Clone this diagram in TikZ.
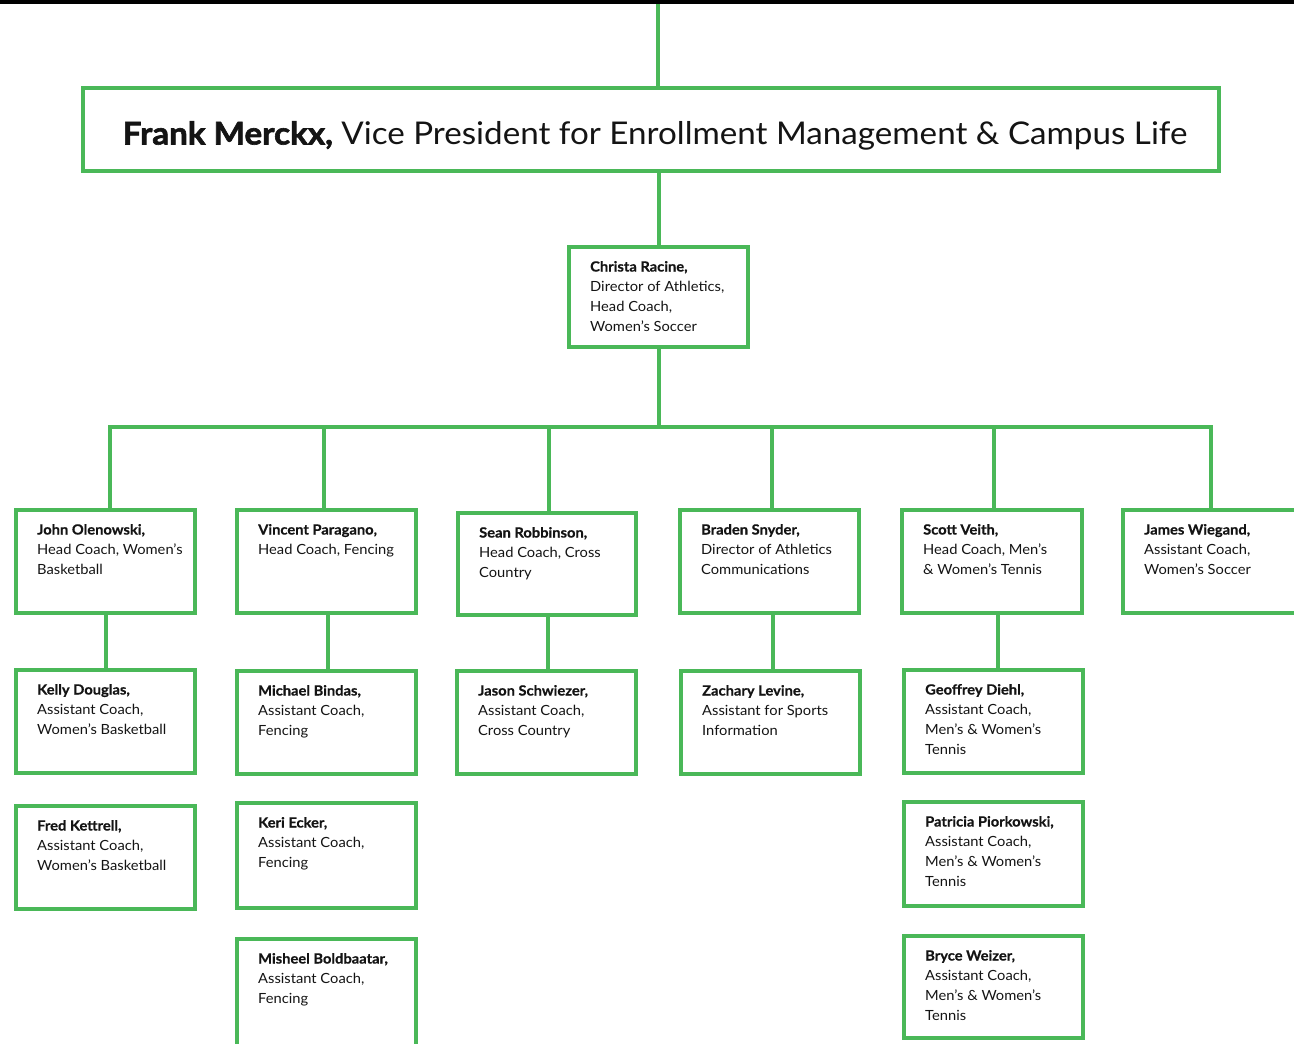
\documentclass[tikz,border=0pt]{standalone}
\usepackage{fontspec}
\setmainfont{Lato}[FakeStretch=1.05, BoldFeatures={FakeBold=0.6}]
\newfontfamily\titlefont{Lato}[FakeStretch=1.06, BoldFeatures={FakeBold=2}]
\definecolor{grn}{RGB}{74,184,88}
\definecolor{ink}{RGB}{20,20,20}
\tikzset{
  box/.style={draw=grn, line width=4pt, inner sep=0pt, outer sep=0pt, anchor=north west, fill=white},
  conn/.style={draw=grn, line width=4pt},
  txt/.style={inner sep=0pt, anchor=base west, text=ink}
}
\newcommand{\pers}[7]{%
  \node[box, minimum width={#4-#2}, minimum height={#5-#3}] (#1) at (#2,#3) {};
  \node[txt] at ([shift={(21,24.5)}]#1.north west)
    {\parbox[t]{175pt}{\raggedright\fontsize{14}{20}\selectfont\textbf{#6}\\#7}};
}
\begin{document}
\begin{tikzpicture}[x=1pt,y=-1pt]
\useasboundingbox (0,0) rectangle (1294,1044);
\clip (0,0) rectangle (1294,1044);
\fill[black] (0,0) rectangle (1294,4);
% top box
\node[box, minimum width=1136, minimum height=83] (vp) at (83,88) {};
\node[inner sep=0pt, anchor=base, text=ink] at (655,144.5)
  {\titlefont\fontsize{31.3}{36}\selectfont\textbf{Frank Merckx,} Vice President for Enrollment Management \& Campus Life};
\pers{chr}{569}{247}{748}{347}{Christa Racine,}{Director of Athletics,\\Head Coach,\\Women’s Soccer}
% row 1
\pers{john}{16}{510}{195}{613}{John Olenowski,}{Head Coach, Women’s\\Basketball}
\pers{vin}{237}{510}{416}{613}{Vincent Paragano,}{Head Coach, Fencing}
\pers{sean}{458}{513}{636}{615}{Sean Robbinson,}{Head Coach, Cross\\Country}
\pers{brad}{680}{510}{859}{613}{Braden Snyder,}{Director of Athletics\\Communications}
\pers{scott}{902}{510}{1082}{613}{Scott Veith,}{Head Coach, Men’s\\\& Women’s Tennis}
\pers{james}{1123}{510}{1302}{613}{James Wiegand,}{Assistant Coach,\\Women’s Soccer}
% row 2
\pers{kelly}{16}{670}{195}{773}{Kelly Douglas,}{Assistant Coach,\\Women’s Basketball}
\pers{mich}{237}{671}{416}{774}{Michael Bindas,}{Assistant Coach,\\Fencing}
\pers{jason}{457}{671}{636}{774}{Jason Schwiezer,}{Assistant Coach,\\Cross Country}
\pers{zach}{681}{671}{860}{774}{Zachary Levine,}{Assistant for Sports\\Information}
\pers{geo}{904}{670}{1083}{773}{Geoffrey Diehl,}{Assistant Coach,\\Men’s \& Women’s\\Tennis}
% row 3
\pers{fred}{16}{806}{195}{909}{Fred Kettrell,}{Assistant Coach,\\Women’s Basketball}
\pers{keri}{237}{803}{416}{908}{Keri Ecker,}{Assistant Coach,\\Fencing}
\pers{pat}{904}{802}{1083}{906}{Patricia Piorkowski,}{Assistant Coach,\\Men’s \& Women’s\\Tennis}
% row 4
\pers{mish}{237}{939}{416}{1050}{Misheel Boldbaatar,}{Assistant Coach,\\Fencing}
\pers{bryce}{904}{936}{1083}{1038}{Bryce Weizer,}{Assistant Coach,\\Men’s \& Women’s\\Tennis}
% connectors
\coordinate (top) at (658,4);
\draw[conn] (top) -- (top |- vp.north);
\draw[conn] (vp.south -| chr.north) -- (chr.north);
\coordinate (b1) at (110,427);
\coordinate (b2) at (324,427);
\coordinate (b3) at (549,427);
\coordinate (b4) at (772,427);
\coordinate (b5) at (994,427);
\coordinate (b6) at (1211,427);
\draw[conn] (chr.south) -- (chr.south |- b1);
\draw[conn] (b1 |- john.north) -- (b1) -- (b6) -- (b6 |- james.north);
\draw[conn] (b2) -- (b2 |- vin.north);
\draw[conn] (b3) -- (b3 |- sean.north);
\draw[conn] (b4) -- (b4 |- brad.north);
\draw[conn] (b5) -- (b5 |- scott.north);
\draw[conn] (john.south) -- (kelly.north);
\draw[conn] ([xshift=1.5]vin.south) -- ([xshift=1.5]vin.south |- mich.north);
\draw[conn] ([xshift=1]sean.south) -- ([xshift=1]sean.south |- jason.north);
\draw[conn] ([xshift=3]brad.south) -- ([xshift=3]brad.south |- zach.north);
\draw[conn] ([xshift=6]scott.south) -- ([xshift=6]scott.south |- geo.north);
\end{tikzpicture}
\end{document}
